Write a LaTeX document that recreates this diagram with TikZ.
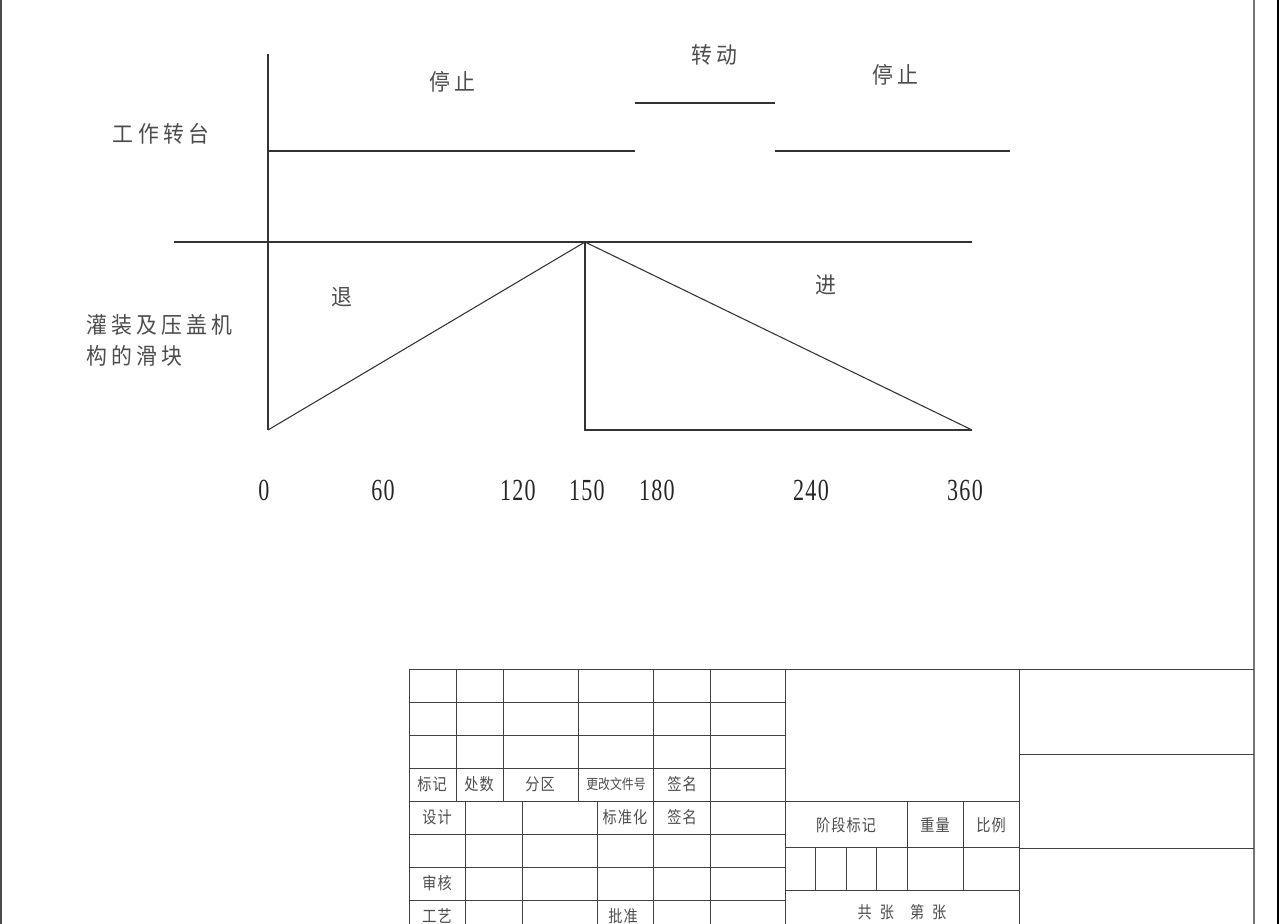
\documentclass[tikz,border=0pt]{standalone}
\usepackage{fontspec}
\newfontfamily\cjk[FakeStretch=0.92]{Noto Sans CJK SC}
\newfontfamily\cjkt[FakeStretch=0.85]{Noto Sans CJK SC}
\newfontfamily\numf[FakeStretch=0.72,LetterSpace=4]{Liberation Serif}
\newcommand\ks{\kern3.2pt}
\newcommand\kt{\kern0.8pt}
\begin{document}
\begin{tikzpicture}[x=0.75pt,y=-0.75pt,
  ln/.style={line width=0.8pt,draw=black!80},
  bd/.style={line width=0.75pt,draw=black!75},
  lab/.style={inner sep=0pt,font=\cjk\fontsize{17}{20}\selectfont,text=black!70},
  num/.style={inner sep=0pt,font=\numf\fontsize{23}{26}\selectfont,text=black!85},
  tb/.style={inner sep=0pt,font=\cjkt\fontsize{12.5}{14}\selectfont,text=black!70},
  tbs/.style={inner sep=0pt,font=\cjkt\fontsize{10.5}{12}\selectfont,text=black!70}]
\useasboundingbox (0,0) rectangle (1283,924);
% borders
\draw[line width=1.6pt,black!70] (1,0) -- (1,924);
\draw[line width=1.6pt,black!55] (1254,0) -- (1254,924);
\draw[line width=0.8pt,black] (1278,0) -- (1278,924);
% chart coordinates
\coordinate (ytop) at (268,54);
\coordinate (o) at (268,430);
\coordinate (hl) at (174,242);
\coordinate (hr) at (972,242);
\coordinate (pk) at (585,242);
\coordinate (pb) at (585,430);
\coordinate (end) at (972,430);
\coordinate (s1a) at (268,151);
\coordinate (s1b) at (635,151);
\coordinate (r1a) at (635,103);
\coordinate (r1b) at (775,103);
\coordinate (s2a) at (775,151);
\coordinate (s2b) at (1010,151);
\draw[ln] (ytop) -- (o);
\draw[ln] (hl) -- (hr);
\draw[ln] (s1a) -- (s1b);
\draw[ln] (r1a) -- (r1b);
\draw[ln] (s2a) -- (s2b);
\draw[ln] (o) -- (pk) -- (end);
\draw[ln] (pk) -- (pb) -- (end);
% labels
\node[lab] (stop1) at (452,82) {停\ks 止};
\node[lab] (turn) at (714,55) {转\ks 动};
\node[lab] (stop2) at (895,75) {停\ks 止};
\node[lab] (table) at (161,134) {工\ks 作\ks 转\ks 台};
\node[lab] (back) at (342,297) {退};
\node[lab] (fwd) at (826,285) {进};
\node[lab,anchor=west] (slide1) at (86,325) {灌\ks 装\ks 及\ks 压\ks 盖\ks 机};
\node[lab,anchor=west] (slide2) at (86,356) {构\ks 的\ks 滑\ks 块};
\node[num] (n0) at (264,490) {0};
\node[num] (n60) at (383,490) {60};
\node[num] (n120) at (518,490) {120};
\node[num] (n150) at (587,490) {150};
\node[num] (n180) at (657,490) {180};
\node[num] (n240) at (811,490) {240};
\node[num] (n360) at (965,490) {360};
% title block
\draw[bd] (409,669) -- (1254,669);
\foreach \y in {702,735,768} \draw[bd] (409,\y) -- (785,\y);
\draw[bd] (409,801) -- (1019,801);
\foreach \y in {834,867,900} \draw[bd] (409,\y) -- (785,\y);
\foreach \x in {456,503,578} \draw[bd] (\x,669) -- (\x,801);
\foreach \x in {465,522,597} \draw[bd] (\x,801) -- (\x,924);
\foreach \x in {409,653,710,785,1019} \draw[bd] (\x,669) -- (\x,924);
\draw[bd] (785,847) -- (1019,847);
\draw[bd] (785,890) -- (1019,890);
\foreach \x in {907,963} \draw[bd] (\x,801) -- (\x,890);
\foreach \x in {815,846,876} \draw[bd] (\x,847) -- (\x,890);
\draw[bd] (1019,754) -- (1254,754);
\draw[bd] (1019,848) -- (1254,848);
\node[tb] (t1) at (432,784) {标\kt 记};
\node[tb] (t2) at (479,784) {处\kt 数};
\node[tb] (t3) at (540,784) {分\kt 区};
\node[tbs] (t4) at (616,784) {更改文件号};
\node[tb] (t5) at (682,784) {签\kt 名};
\node[tb] (t6) at (437,817) {设\kt 计};
\node[tb] (t7) at (625,817) {标\kt 准\kt 化};
\node[tb] (t8) at (682,817) {签\kt 名};
\node[tb] (t9) at (437,883) {审\kt 核};
\node[tb] (t10) at (437,916) {工\kt 艺};
\node[tb] (t11) at (623,916) {批\kt 准};
\node[tb] (t12) at (846,825) {阶\kt 段\kt 标\kt 记};
\node[tb] (t13) at (935,825) {重\kt 量};
\node[tb] (t14) at (991,825) {比\kt 例};
\node[tb] (t15) at (902,912) {共\hspace{6pt}张\hspace{12pt}第\hspace{6pt}张};
\end{tikzpicture}
\end{document}
